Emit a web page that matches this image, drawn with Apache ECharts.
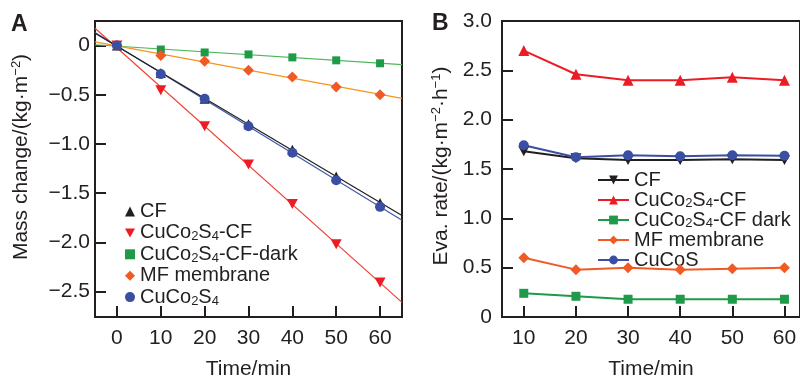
<!DOCTYPE html>
<html><head><meta charset="utf-8">
<script src="https://cdn.jsdelivr.net/npm/echarts@6/dist/echarts.min.js"></script>
<style>html,body{margin:0;padding:0;background:#fff}#c{width:800px;height:385px}</style>
</head><body><div id="c"></div>
<script>
// ---- data (panel A: mass change) ----
const timeA = [0, 10, 20, 30, 40, 50, 60];
const massCF = [0, -0.28, -0.54, -0.80, -1.06, -1.33, -1.60];
const massCuCoCF = [0, -0.455, -0.82, -1.21, -1.61, -2.02, -2.41];
const massDark = [0, -0.04, -0.07, -0.09, -0.12, -0.15, -0.18];
const massMF = [0, -0.10, -0.16, -0.25, -0.32, -0.42, -0.50];
const massCuCo = [0, -0.29, -0.54, -0.82, -1.09, -1.37, -1.64];
// ---- data (panel B: evaporation rate) ----
const timeB = [10, 20, 30, 40, 50, 60];
const rateCF = [1.68, 1.61, 1.59, 1.59, 1.60, 1.59];
const rateCuCoCF = [2.70, 2.46, 2.40, 2.40, 2.43, 2.40];
const rateDark = [0.24, 0.21, 0.18, 0.18, 0.18, 0.18];
const rateMF = [0.60, 0.48, 0.50, 0.48, 0.49, 0.50];
const rateCuCoS = [1.74, 1.62, 1.64, 1.63, 1.64, 1.635];
// ---- ticks ----
const xTicksA = [0, 10, 20, 30, 40, 50, 60];
const yTicksA = [-2.5, -2, -1.5, -1, -0.5, 0];
const xTicksB = [10, 20, 30, 40, 50, 60];
const yTicksB = [0, 0.5, 1, 1.5, 2, 2.5, 3];
// ---- labels ----
const namesA = ['CF', 'CuCo2S4-CF', 'CuCo2S4-CF-dark', 'MF membrane', 'CuCo2S4'];
const namesB = ['B:CF', 'B:CuCo2S4-CF', 'B:CuCo2S4-CF dark', 'B:MF membrane', 'B:CuCoS'];
const richLabel = {
  'CF': 'CF',
  'CuCo2S4-CF': 'CuCo{s|2}S{s|4}-CF',
  'CuCo2S4-CF-dark': 'CuCo{s|2}S{s|4}-CF-dark',
  'MF membrane': 'MF membrane',
  'CuCo2S4': 'CuCo{s|2}S{s|4}',
  'B:CF': 'CF',
  'B:CuCo2S4-CF': 'CuCo{s|2}S{s|4}-CF',
  'B:CuCo2S4-CF dark': 'CuCo{s|2}S{s|4}-CF dark',
  'B:MF membrane': 'MF membrane',
  'B:CuCoS': 'CuCoS'
};

const FONT = 'Liberation Sans, Arial, Helvetica, sans-serif';
const TXT = '#231f20';
const C = {
  black: '#231f20', red: '#ed1c24', green: '#1f9a48', orange: '#f15a24', blue: '#3a4fa3',
  lblack: '#231f20', lred: '#ef4136', lgreen: '#4cb85a', lorange: '#f7941d', lblue: '#3f5aa9'
};
const DOWN = 'path://M0,0L10,0L5,9Z';

function fit(xs, ys) {
  const n = xs.length; let sx = 0, sy = 0, sxx = 0, sxy = 0;
  for (let i = 0; i < n; i++) { sx += xs[i]; sy += ys[i]; sxx += xs[i] * xs[i]; sxy += xs[i] * ys[i]; }
  const b = (n * sxy - sx * sy) / (n * sxx - sx * sx);
  const a = (sy - b * sx) / n;
  return x => a + b * x;
}
const pairs = (xs, ys) => xs.map((x, i) => [x, ys[i]]);
const fmtNum = v => v === 0 ? '0' : (v < 0 ? '\u2212' : '') + Math.abs(v).toFixed(1);

const XA_MIN = -5, XA_MAX = 65;
function fitLine(ys, color) {
  const f = fit(timeA, ys);
  return {
    type: 'line', xAxisIndex: 0, yAxisIndex: 0, name: 'fit', silent: true,
    data: [[XA_MIN, f(XA_MIN)], [XA_MAX, f(XA_MAX)]],
    showSymbol: false, symbol: 'none', lineStyle: { color: color, width: 1.2 }, z: 2
  };
}
function scatterA(name, ys, symbol, size, color) {
  return {
    type: 'scatter', name: name, xAxisIndex: 0, yAxisIndex: 0, data: pairs(timeA, ys),
    symbol: symbol, symbolSize: size, itemStyle: { color: color, opacity: 1 }, z: 5
  };
}
function lineB(name, ys, symbol, size, color) {
  return {
    type: 'line', name: name, xAxisIndex: 1, yAxisIndex: 1, data: pairs(timeB, ys),
    symbol: symbol, symbolSize: size, showAllSymbol: true,
    itemStyle: { color: color }, lineStyle: { color: color, width: 2 }, z: 5
  };
}

const rich = {
  u: { fontSize: 13, fontFamily: FONT, color: TXT, verticalAlign: 'top', lineHeight: 12 }
};
const axisCommon = {
  axisLine: { show: true, onZero: false, lineStyle: { color: TXT, width: 2 } },
  axisTick: { show: true, inside: true, length: 11, lineStyle: { color: TXT, width: 2 } },
  splitLine: { show: false },
  axisLabel: { color: TXT, fontSize: 21, fontFamily: FONT },
  nameTextStyle: { color: TXT, fontSize: 21, fontFamily: FONT, rich: rich }
};
const subRich = { s: { fontSize: 13, fontFamily: FONT, color: TXT, verticalAlign: 'bottom', lineHeight: 16 } };

const option = {
  animation: false,
  backgroundColor: '#fff',
  textStyle: { fontFamily: FONT },
  grid: [
    { left: 95, top: 21, width: 307, height: 301, show: true, borderColor: TXT, borderWidth: 2 },
    { left: 502, top: 21, width: 301, height: 301, show: true, borderColor: TXT, borderWidth: 2 }
  ],
  xAxis: [
    Object.assign({}, axisCommon, {
      type: 'value', gridIndex: 0, min: XA_MIN, max: XA_MAX,
      axisTick: Object.assign({}, axisCommon.axisTick, { customValues: xTicksA }),
      axisLabel: Object.assign({}, axisCommon.axisLabel, { customValues: xTicksA, margin: 11 }),
      name: 'Time/min', nameLocation: 'middle', nameGap: 42
    }),
    Object.assign({}, axisCommon, {
      type: 'value', gridIndex: 1, min: 5.82, max: 62.98,
      axisTick: Object.assign({}, axisCommon.axisTick, { customValues: xTicksB }),
      axisLabel: Object.assign({}, axisCommon.axisLabel, { customValues: xTicksB, margin: 11 }),
      name: 'Time/min', nameLocation: 'middle', nameGap: 42
    })
  ],
  yAxis: [
    Object.assign({}, axisCommon, {
      type: 'value', gridIndex: 0, min: -2.76, max: 0.25,
      axisTick: Object.assign({}, axisCommon.axisTick, { customValues: yTicksA }),
      axisLabel: Object.assign({}, axisCommon.axisLabel, { customValues: yTicksA, margin: 5, formatter: fmtNum }),
      name: 'Mass change/(kg\u00b7m{u|\u22122})', nameLocation: 'middle', nameGap: 63,
      nameTextStyle: Object.assign({}, axisCommon.nameTextStyle, { padding: [0, 0, 0, 24], lineHeight: 22 })
    }),
    Object.assign({}, axisCommon, {
      type: 'value', gridIndex: 1, min: 0, max: 3,
      axisTick: Object.assign({}, axisCommon.axisTick, { customValues: yTicksB }),
      axisLabel: Object.assign({}, axisCommon.axisLabel, { customValues: yTicksB, margin: 10, formatter: fmtNum }),
      name: 'Eva. rate/(kg\u00b7m{u|\u22122}\u00b7h{u|\u22121})', nameLocation: 'middle', nameGap: 50,
      nameTextStyle: Object.assign({}, axisCommon.nameTextStyle, { padding: [0, 0, 0, 6], lineHeight: 22 })
    })
  ],
  legend: [
    {
      data: namesA.map((n, i) => ({ name: n, icon: ['triangle', DOWN, 'rect', 'diamond', 'circle'][i] })),
      orient: 'vertical', left: 120, top: 196, itemWidth: 10, itemHeight: 10, itemGap: 0.4, itemTextGap: 9,
      formatter: n => richLabel[n],
      textStyle: { color: TXT, fontSize: 20, fontFamily: FONT, lineHeight: 21, rich: subRich }
    },
    {
      data: namesB, orient: 'vertical', left: 592, top: 165, itemWidth: 31, itemHeight: 11, itemGap: 0, itemTextGap: 6,
      formatter: n => richLabel[n],
      textStyle: { color: TXT, fontSize: 20, fontFamily: FONT, lineHeight: 19.8, rich: subRich }
    }
  ],
  graphic: [
    { type: 'text', left: 11, top: 13, style: { text: 'A', fontSize: 23, fontWeight: 'bold', fontFamily: FONT, fill: TXT } },
    { type: 'text', left: 432, top: 12, style: { text: 'B', fontSize: 23, fontWeight: 'bold', fontFamily: FONT, fill: TXT } }
  ],
  series: [
    fitLine(massDark, C.lgreen),
    fitLine(massMF, C.lorange),
    fitLine(massCuCoCF, C.lred),
    fitLine(massCuCo, C.lblue),
    fitLine(massCF, C.lblack),
    scatterA(namesA[0], massCF, 'triangle', 10, C.black),
    scatterA(namesA[1], massCuCoCF, DOWN, [11, 10], C.red),
    scatterA(namesA[2], massDark, 'rect', 8, C.green),
    scatterA(namesA[3], massMF, 'diamond', [11, 11], C.orange),
    scatterA(namesA[4], massCuCo, 'circle', 10, C.blue),
    lineB(namesB[0], rateCF, DOWN, [11, 10], C.black),
    lineB(namesB[1], rateCuCoCF, 'triangle', 11, C.red),
    lineB(namesB[2], rateDark, 'rect', 9, C.green),
    lineB(namesB[3], rateMF, 'diamond', [11, 11], C.orange),
    lineB(namesB[4], rateCuCoS, 'circle', 10, C.blue)
  ]
};
const chart = echarts.init(document.getElementById('c'), null, { renderer: 'canvas' });
chart.setOption(option);
</script>
</body></html>
